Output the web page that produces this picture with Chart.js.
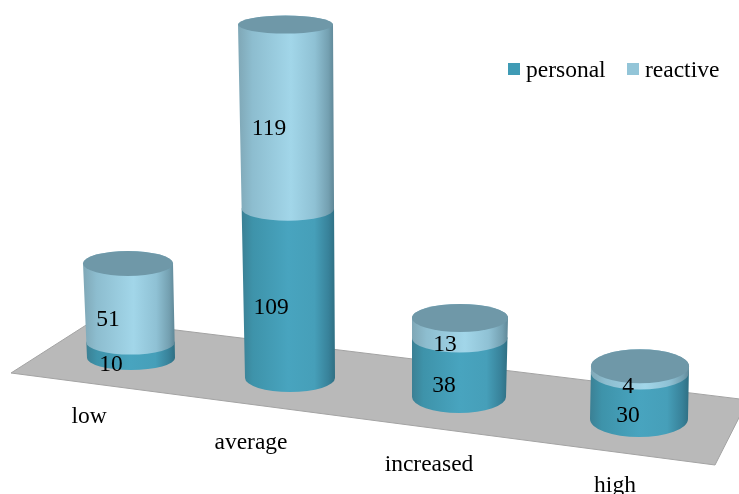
<!DOCTYPE html>
<html>
<head>
<meta charset="utf-8">
<script src="https://cdn.jsdelivr.net/npm/chart.js@4/dist/chart.umd.min.js"></script>
<style>
  body { margin: 0; background: #fff; }
</style>
</head>
<body>
<canvas id="chart" width="739" height="494"></canvas>
<script>
const categories = ['low', 'average', 'increased', 'high'];
const personalValues = [10, 109, 38, 30];
const reactiveValues = [51, 119, 13, 4];

// fake 3d: where each cylinder really stands compared with the flat bar
const shiftX = [11, 0, -1, 9];
const leanX = [-3, -4.5, 1, 1];
const shiftY = [-121, -101, -82, -60];
const baseRadiusX = [44, 45, 47, 49];
const topRadiusX = [45, 47.5, 48, 49];
const baseRadiusY = [12, 14, 16, 18];
const topRadiusY = [12.5, 9, 14, 17];

// data label offsets from the middle of the segment
const personalLabelShift = [[-20, 21], [-19, 20], [-15, 24], [-11, 26]];
const reactiveLabelShift = [[-23, 23], [-21, 18], [-14, 23], [-11, 24]];

// category label positions, measured from the foot of the cylinder
const categoryLabelShift = [[-42, 65], [-39, 71], [-30, 74], [-24, 73]];

const floorPoints = [[11, 373], [94, 320], [748, 400], [715, 465]];
const fontFamily = '"Liberation Serif", serif';
const personalColor = '#3f9bb5';
const reactiveColor = '#93c5d8';

function bodyGradient(ctx, left, right, stops) {
    const g = ctx.createLinearGradient(left, 0, right, 0);
    stops.forEach(s => g.addColorStop(s[0], s[1]));
    return g;
}

const personalStops = [[0, '#3b8094'], [0.12, '#3e93aa'], [0.5, '#48a4bf'], [0.78, '#469fb9'], [0.93, '#38829a'], [1, '#2f6f83']];
const reactiveStops = [[0, '#7fa7b6'], [0.15, '#8dbdcf'], [0.55, '#a2d6e9'], [0.8, '#8fc1d4'], [0.94, '#74a0b1'], [1, '#5f8797']];

function drawSegment(ctx, c, barX, topY, bottomY, stackTop, footY, stops) {
    // radius and centre change a bit going up the column
    const at = y => (footY - y) / (footY - stackTop);
    const mix = (a, b, t) => a + (b - a) * t;
    const footX = barX + shiftX[c];
    const tTop = at(topY);
    const tBot = at(bottomY);
    const cxTop = footX + leanX[c] * tTop;
    const cxBot = footX + leanX[c] * tBot;
    const rxTop = mix(baseRadiusX[c], topRadiusX[c], tTop);
    const rxBot = mix(baseRadiusX[c], topRadiusX[c], tBot);
    const ryTop = mix(baseRadiusY[c], topRadiusY[c], tTop);
    const ryBot = mix(baseRadiusY[c], topRadiusY[c], tBot);

    ctx.beginPath();
    ctx.moveTo(cxTop - rxTop, topY);
    ctx.lineTo(cxBot - rxBot, bottomY);
    ctx.ellipse(cxBot, bottomY, rxBot, ryBot, 0, Math.PI, 0, true);
    ctx.lineTo(cxTop + rxTop, topY);
    ctx.ellipse(cxTop, topY, rxTop, ryTop, 0, 0, Math.PI, true);
    ctx.closePath();
    ctx.fillStyle = bodyGradient(ctx, Math.min(cxTop - rxTop, cxBot - rxBot), Math.max(cxTop + rxTop, cxBot + rxBot), stops);
    ctx.fill();
}

const cylinderPlugin = {
    id: 'cylinders',
    beforeDatasetsDraw(chart) {
        const ctx = chart.ctx;
        const personalMeta = chart.getDatasetMeta(0);
        const reactiveMeta = chart.getDatasetMeta(1);

        ctx.save();
        ctx.beginPath();
        floorPoints.forEach((p, i) => i ? ctx.lineTo(p[0], p[1]) : ctx.moveTo(p[0], p[1]));
        ctx.closePath();
        ctx.fillStyle = '#b9b9b9';
        ctx.fill();
        ctx.strokeStyle = '#a3a3a3';
        ctx.lineWidth = 1;
        ctx.stroke();

        categories.forEach((name, c) => {
            const personal = personalMeta.data[c];
            const reactive = reactiveMeta.data[c];
            const footY = personal.base + shiftY[c];
            const middleY = personal.y + shiftY[c];
            const topY = reactive.y + shiftY[c];

            drawSegment(ctx, c, personal.x, middleY, footY, topY, footY, personalStops);
            drawSegment(ctx, c, personal.x, topY, middleY, topY, footY, reactiveStops);

            // the lid
            ctx.beginPath();
            ctx.ellipse(personal.x + shiftX[c] + leanX[c], topY, topRadiusX[c], topRadiusY[c], 0, 0, Math.PI * 2);
            ctx.fillStyle = '#6f98a8';
            ctx.fill();
        });
        ctx.restore();
    },
    beforeDatasetDraw() {
        return false; // the flat bars stay hidden, cylinders replace them
    },
    afterDatasetsDraw(chart) {
        const ctx = chart.ctx;
        ctx.save();
        ctx.fillStyle = '#000';
        ctx.font = '23.5px ' + fontFamily;
        ctx.textAlign = 'center';
        ctx.textBaseline = 'alphabetic';

        chart.data.datasets.forEach((ds, d) => {
            const shifts = d === 0 ? personalLabelShift : reactiveLabelShift;
            chart.getDatasetMeta(d).data.forEach((bar, c) => {
                const mid = (bar.y + bar.base) / 2 + shiftY[c];
                ctx.fillText(String(ds.data[c]), bar.x + shiftX[c] + shifts[c][0], mid + shifts[c][1]);
            });
        });

        chart.getDatasetMeta(0).data.forEach((bar, c) => {
            ctx.fillText(categories[c], bar.x + shiftX[c] + categoryLabelShift[c][0], bar.base + shiftY[c] + categoryLabelShift[c][1]);
        });

        // legend
        ctx.textAlign = 'left';
        let legendX = 508;
        chart.data.datasets.forEach(ds => {
            ctx.fillStyle = ds.backgroundColor;
            ctx.fillRect(legendX, 63, 12, 12);
            ctx.fillStyle = '#000';
            ctx.fillText(ds.label, legendX + 18, 77);
            legendX += 119;
        });
        ctx.restore();
    }
};

new Chart(document.getElementById('chart'), {
    type: 'bar',
    data: {
        labels: categories,
        datasets: [
            { label: 'personal', data: personalValues, backgroundColor: personalColor },
            { label: 'reactive', data: reactiveValues, backgroundColor: reactiveColor }
        ]
    },
    options: {
        responsive: false,
        animation: false,
        layout: { padding: { left: 35, right: 24, top: 14, bottom: 15 } },
        plugins: {
            legend: { display: false },
            tooltip: { enabled: false }
        },
        scales: {
            x: { stacked: true, display: false },
            y: { stacked: true, display: false, min: 0, max: 300 }
        }
    },
    plugins: [cylinderPlugin]
});
</script>
</body>
</html>
